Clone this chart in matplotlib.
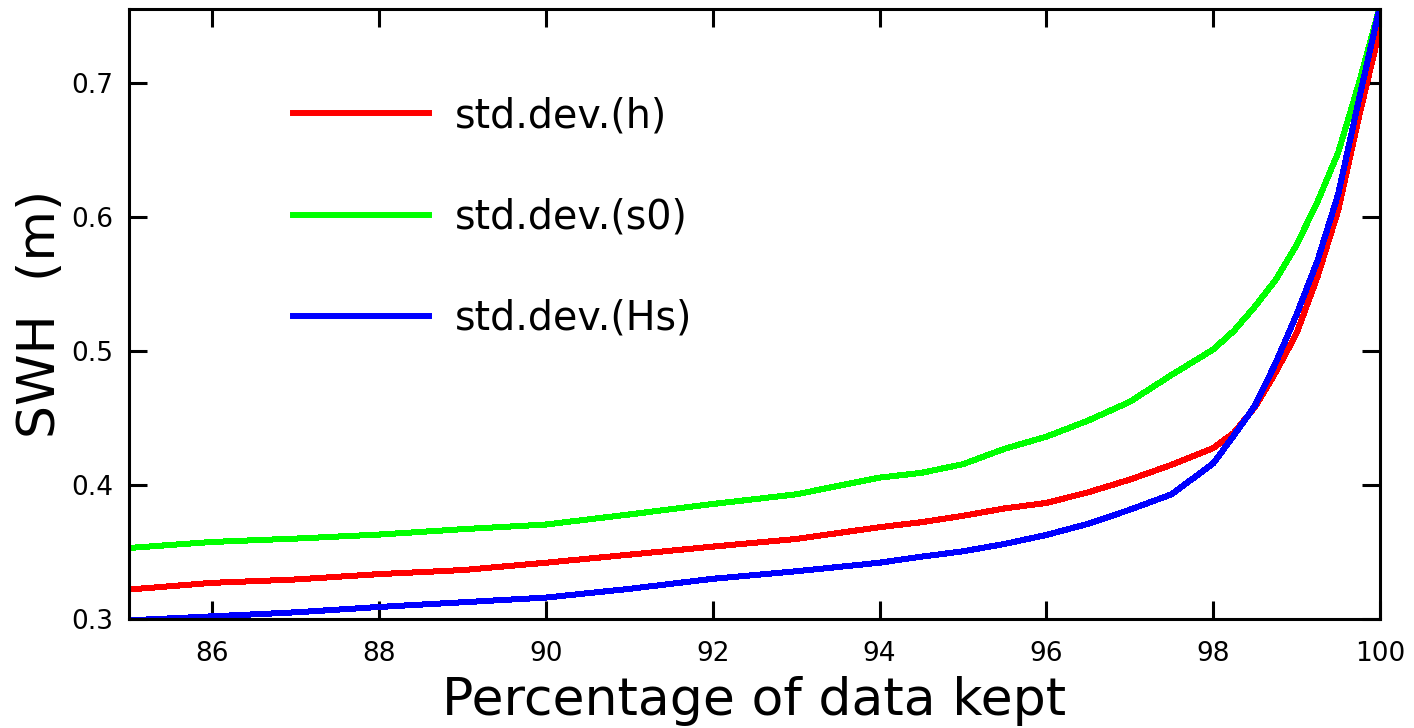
import matplotlib
matplotlib.use('Agg')
import matplotlib.pyplot as plt
import numpy as np

# percentage of data kept after editing
pct = [85, 86, 87, 88, 89, 90, 91, 92, 93, 94, 94.5, 95, 95.5, 96, 96.5,
       97, 97.5, 98, 98.25, 98.5, 98.75, 99, 99.25, 99.5, 99.75, 100]

# standard deviations of SWH (m) for each criterion
sd_h = [0.322, 0.327, 0.3295, 0.3335, 0.3365, 0.342, 0.348, 0.354, 0.3597,
        0.3685, 0.3722, 0.377, 0.3825, 0.3866, 0.3945, 0.404, 0.415, 0.4274,
        0.439, 0.458, 0.484, 0.513, 0.555, 0.605, 0.675, 0.74]
sd_s0 = [0.353, 0.3575, 0.360, 0.363, 0.367, 0.3705, 0.378, 0.3858, 0.393,
         0.4055, 0.409, 0.4155, 0.427, 0.436, 0.448, 0.462, 0.482, 0.501,
         0.515, 0.533, 0.553, 0.579, 0.611, 0.648, 0.70, 0.757]
sd_hs = [0.299, 0.302, 0.305, 0.309, 0.3125, 0.316, 0.3225, 0.330, 0.3356,
         0.342, 0.3465, 0.3505, 0.356, 0.3627, 0.371, 0.3815, 0.393, 0.416,
         0.437, 0.459, 0.491, 0.527, 0.567, 0.617, 0.688, 0.757]

labels = ['std.dev.(h)', 'std.dev.(s0)', 'std.dev.(Hs)']
colors = ['#ff0000', '#00ff00', '#0000ff']

fig = plt.figure(figsize=(14.14, 7.28), dpi=100)
ax = fig.add_axes([0.0912, 0.1497, 0.8847, 0.8379])

for series, lab, col in zip([sd_h, sd_s0, sd_hs], labels, colors):
    ax.plot(pct, series, color=col, lw=3.6, label=lab, antialiased=False)

ax.set_xlim(85, 100)
ax.set_ylim(0.3, 0.755)
ax.set_xticks(np.arange(86, 101, 2))
ax.set_yticks([0.3, 0.4, 0.5, 0.6, 0.7])
ax.set_xticklabels([str(v) for v in range(86, 101, 2)])
ax.set_yticklabels(['0.3', '0.4', '0.5', '0.6', '0.7'])

for s in ax.spines.values():
    s.set_linewidth(2.2)
ax.tick_params(direction='in', length=13, width=2.2, labelsize=19,
               top=True, right=True)
ax.tick_params(axis='x', pad=16)
ax.tick_params(axis='y', pad=11)

ax.set_xlabel('Percentage of data kept', fontsize=37.5, labelpad=6)
ax.set_ylabel('SWH  (m)', fontsize=37.5, labelpad=4)

leg = ax.legend(loc='upper left', bbox_to_anchor=(0.131, 0.857),
                frameon=False, fontsize=28.5, handlelength=3.43,
                handletextpad=0.66, labelspacing=1.55, borderpad=0,
                borderaxespad=0)
for h in leg.get_lines():
    h.set_linewidth(4.3)

fig.savefig('out.png', dpi=100)
